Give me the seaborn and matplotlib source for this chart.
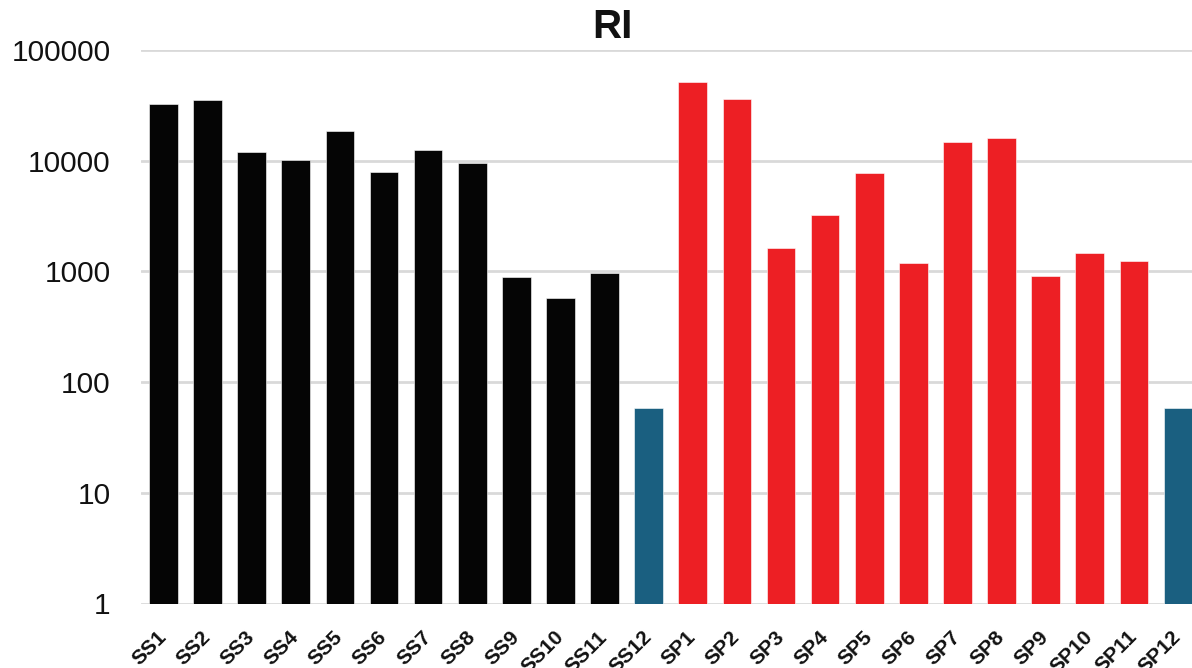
import matplotlib
matplotlib.use("Agg")
import matplotlib.pyplot as plt
import matplotlib.transforms as mtransforms
import pandas as pd
import seaborn as sns

# Sample names, in plotting order
samples = ["SS1", "SS2", "SS3", "SS4", "SS5", "SS6", "SS7", "SS8", "SS9", "SS10", "SS11", "SS12",
           "SP1", "SP2", "SP3", "SP4", "SP5", "SP6", "SP7", "SP8", "SP9", "SP10", "SP11", "SP12"]

# RI value of each sample
ri_values = [32600, 35600, 11900, 10100, 18700, 7970, 12600, 9620, 890, 575, 968, 58,
             51900, 36400, 1630, 3240, 7690, 1180, 14800, 16100, 914, 1470, 1240, 58]

# Series membership (the 12th sample of each set is the reference sample)
groups = ["SS"] * 11 + ["Reference"] + ["SP"] * 11 + ["Reference"]

y_ticks = [1, 10, 100, 1000, 10000, 100000]

palette = {"SS": "#050505", "SP": "#ED1F24", "Reference": "#1A5F80"}

df = pd.DataFrame({"sample": samples, "RI": ri_values, "group": groups})

sns.set_theme(style="white")
plt.rcParams["font.family"] = ["Liberation Sans", "DejaVu Sans"]

W, H = 1192, 668
fig = plt.figure(figsize=(W / 100, H / 100), dpi=100)
left, right, top, bottom = 141.4, 1200.0, 50.0, 603.5
ax = fig.add_axes([left / W, (H - bottom) / H, (right - left) / W, (bottom - top) / H])

sns.barplot(data=df, x="sample", y="RI", hue="group", palette=palette, dodge=False,
            width=0.65, legend=False, ax=ax, edgecolor="white", linewidth=0.4,
            saturation=1)

ax.set_yscale("log")
ax.set_ylim(1, 100000)
ax.set_xlim(-0.5, len(samples) - 0.5)
ax.set_yticks(y_ticks)
ax.set_yticklabels([str(v) for v in y_ticks])
ax.yaxis.set_minor_locator(matplotlib.ticker.NullLocator())
ax.yaxis.grid(True, color="#d9d9d9", linewidth=2)
ax.set_axisbelow(True)
for s in ax.spines.values():
    s.set_visible(False)

ax.set_xlabel("")
ax.set_ylabel("")
ax.tick_params(axis="y", length=0, pad=22, labelsize=21.5, labelcolor="#111111")
ax.tick_params(axis="x", length=0, pad=22)

offset = mtransforms.ScaledTranslation(0 / 100, 0, fig.dpi_scale_trans)
for lbl in ax.get_xticklabels():
    lbl.set_rotation(45)
    lbl.set_ha("right")
    lbl.set_va("center")
    lbl.set_rotation_mode("anchor")
    lbl.set_fontsize(15)
    lbl.set_fontweight("bold")
    lbl.set_color("#111111")
    lbl.set_transform(lbl.get_transform() + offset)

fig.text(612.5 / W, 1 - 27 / H, "RI", ha="center", va="center",
         fontsize=29, fontweight="bold", color="#111111")

fig.savefig("out.png", dpi=100, facecolor="white")
